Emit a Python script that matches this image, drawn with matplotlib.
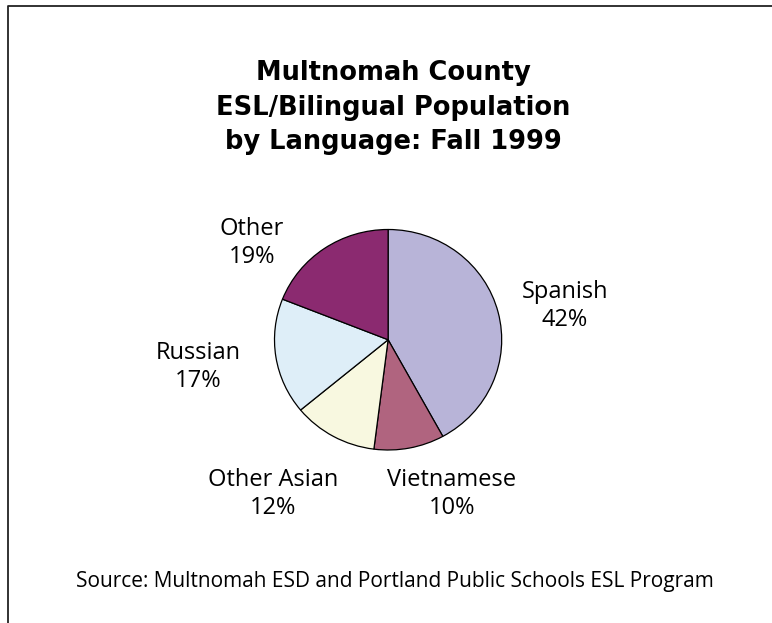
import matplotlib
matplotlib.use("Agg")
import matplotlib.pyplot as plt
from matplotlib.lines import Line2D

# Fall 1999 ESL/bilingual population shares by language
languages = ["Spanish", "Vietnamese", "Other Asian", "Russian", "Other"]
shares = [42, 10, 12, 17, 19]
colors = ["#B8B4D8", "#B0647F", "#F8F8E0", "#DEEEF8", "#8B2A70"]

title_lines = ["Multnomah County", "ESL/Bilingual Population", "by Language: Fall 1999"]
source = "Source: Multnomah ESD and Portland Public Schools ESL Program"

W, H = 772, 623
fig = plt.figure(figsize=(W / 100, H / 100), dpi=100)
fig.patch.set_facecolor("white")


def fx(px):
    return px / W


def fy(py):
    return 1 - py / H


# frame lines along the top and left edge
fig.add_artist(Line2D([fx(8), fx(8), fx(W)], [fy(H), fy(6), fy(6)],
                      transform=fig.transFigure, color="#222222", lw=1.3))

# title
title_font = dict(family="DejaVu Sans", weight="bold", size=18.5, color="black")
for y, line in zip([73, 108, 142], title_lines):
    fig.text(fx(393), fy(y), line, ha="center", va="center", **title_font)

# pie occupies an axes box slightly wider than tall
left, right, top, bottom = 274.5, 501.7, 229.5, 450.0
ax = fig.add_axes([fx(left), fy(bottom), fx(right - left), (bottom - top) / H])
ax.pie(shares, colors=colors, startangle=90, counterclock=False,
       wedgeprops=dict(edgecolor="black", linewidth=0.9))
ax.set_aspect("auto")
ax.set_xlim(-1, 1)
ax.set_ylim(-1, 1)
ax.axis("off")

# category labels with their percentages
label_font = dict(family="Open Sans", size=17, color="black")
label_pos = {
    "Spanish": (565, 306),
    "Vietnamese": (452, 494),
    "Other Asian": (273, 494),
    "Russian": (198, 367),
    "Other": (252, 243),
}
for name, val in zip(languages, shares):
    x, y = label_pos[name]
    fig.text(fx(x), fy(y), f"{name}\n{val}%", ha="center", va="center",
             linespacing=1.22, **label_font)

fig.text(fx(395), fy(581), source, ha="center", va="center",
         family="Open Sans", size=15, color="black")

fig.savefig("out.png", dpi=100)
